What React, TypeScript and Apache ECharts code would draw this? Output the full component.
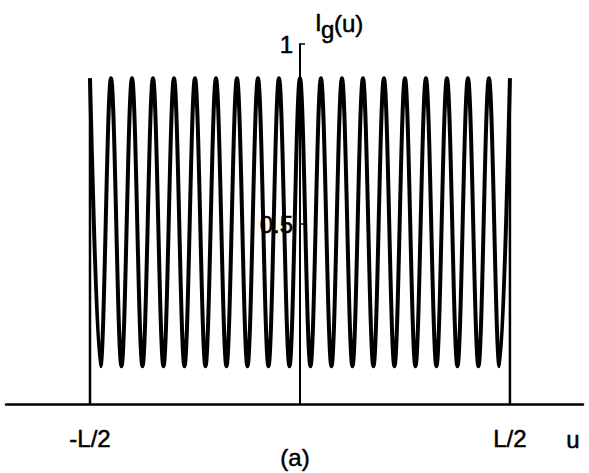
import { useEffect, useRef } from "react";
import * as echarts from "echarts";

// Fringe extrema (u in units of L)
const fringeU = [
  -0.5, -0.475, -0.45, -0.425, -0.4, -0.375, -0.35, -0.325, -0.3, -0.275,
  -0.25, -0.225, -0.2, -0.175, -0.15, -0.125, -0.1, -0.075, -0.05, -0.025,
  0, 0.025, 0.05, 0.075, 0.1, 0.125, 0.15, 0.175, 0.2, 0.225,
  0.25, 0.275, 0.3, 0.325, 0.35, 0.375, 0.4, 0.425, 0.45, 0.475, 0.5,
];
const fringeI = [
  0.905, 0.105, 0.905, 0.105, 0.905, 0.105, 0.905, 0.105, 0.905, 0.105,
  0.905, 0.105, 0.905, 0.105, 0.905, 0.105, 0.905, 0.105, 0.905, 0.105,
  0.905, 0.105, 0.905, 0.105, 0.905, 0.105, 0.905, 0.105, 0.905, 0.105,
  0.905, 0.105, 0.905, 0.105, 0.905, 0.105, 0.905, 0.105, 0.905, 0.105, 0.905,
];
// Edges of the pattern (vertical steps from 0 to the first/last peak)
const edgeU = [-0.5, 0.5];
const edgeLow = 0;
const edgeHigh = 0.905;

const xTickValues = [-0.5, 0.5];
const xTickLabels = ["-L/2", "L/2"];
const yTickValues = [0.5, 1];
const yTickLabels = ["0.5", "1"];

const FONT = "'Liberation Sans', Arial, Helvetica, sans-serif";
const FS = 24;
const heavy = { textBorderColor: "#000", textBorderWidth: 0.5 };

export default function App() {
  const ref = useRef<HTMLDivElement>(null);
  useEffect(() => {
    if (!ref.current) return;
    const chart = echarts.init(ref.current, undefined, { renderer: "svg" });
    const edgeSeries = edgeU.map((u) => ({
      type: "line",
      data: [
        [u, edgeLow],
        [u, edgeHigh],
      ],
      symbol: "none",
      lineStyle: { color: "#000", width: 2.5 },
      z: 3,
    }));
    const txt = (text: string, x: number, y: number, align: string) => ({
      type: "text",
      x,
      y,
      style: {
        text,
        fontSize: FS,
        fontFamily: FONT,
        fill: "#000",
        stroke: "#000",
        lineWidth: 0.5,
        verticalAlign: "middle",
        align,
      },
    });
    chart.setOption({
      animation: false,
      backgroundColor: "#fff",
      grid: {
        left: 6,
        right: 6,
        top: 44,
        bottom: 69,
        containLabel: false,
        outerBoundsMode: "none",
      },
      xAxis: {
        type: "value",
        min: -0.7,
        max: 0.674,
        axisLine: { show: true, onZero: false, lineStyle: { color: "#000", width: 2.5 } },
        axisTick: { show: false },
        splitLine: { show: false },
        axisLabel: {
          customValues: xTickValues,
          formatter: (v: number) => {
            const i = xTickValues.findIndex((t) => Math.abs(t - v) < 1e-9);
            return i >= 0 ? xTickLabels[i] : "";
          },
          color: "#000",
          fontSize: FS,
          fontFamily: FONT,
          margin: 22,
          ...heavy,
        },
      },
      yAxis: {
        type: "value",
        min: 0,
        max: 1,
        interval: 0.5,
        position: "left",
        offset: -294,
        axisLine: { show: true, onZero: false, lineStyle: { color: "#000", width: 2 } },
        axisTick: {
          show: true,
          inside: true,
          length: 5,
          customValues: yTickValues,
          lineStyle: { color: "#000", width: 1.5 },
        },
        splitLine: { show: false },
        axisLabel: {
          customValues: yTickValues,
          formatter: (v: number) => {
            const i = yTickValues.findIndex((t) => Math.abs(t - v) < 1e-9);
            return i >= 0 ? yTickLabels[i] : "";
          },
          color: "#000",
          fontSize: FS,
          fontFamily: FONT,
          margin: 7,
          ...heavy,
        },
      },
      series: [
        {
          type: "line",
          data: fringeU.map((u, i) => [u, fringeI[i]]),
          smooth: 0.363,
          symbol: "none",
          lineStyle: { color: "#000", width: 4 },
          z: 3,
        },
        ...edgeSeries,
      ],
      graphic: [
        txt("I", 315, 22, "left"),
        txt("g", 321, 29, "left"),
        txt("(u)", 334, 23, "left"),
        txt("u", 573, 439, "center"),
        txt("(a)", 295, 457, "center"),
      ],
    });
    return () => chart.dispose();
  }, []);
  return (
    <div
      ref={ref}
      style={{ position: "fixed", left: 0, top: 0, width: 589, height: 473, background: "#fff" }}
    />
  );
}
